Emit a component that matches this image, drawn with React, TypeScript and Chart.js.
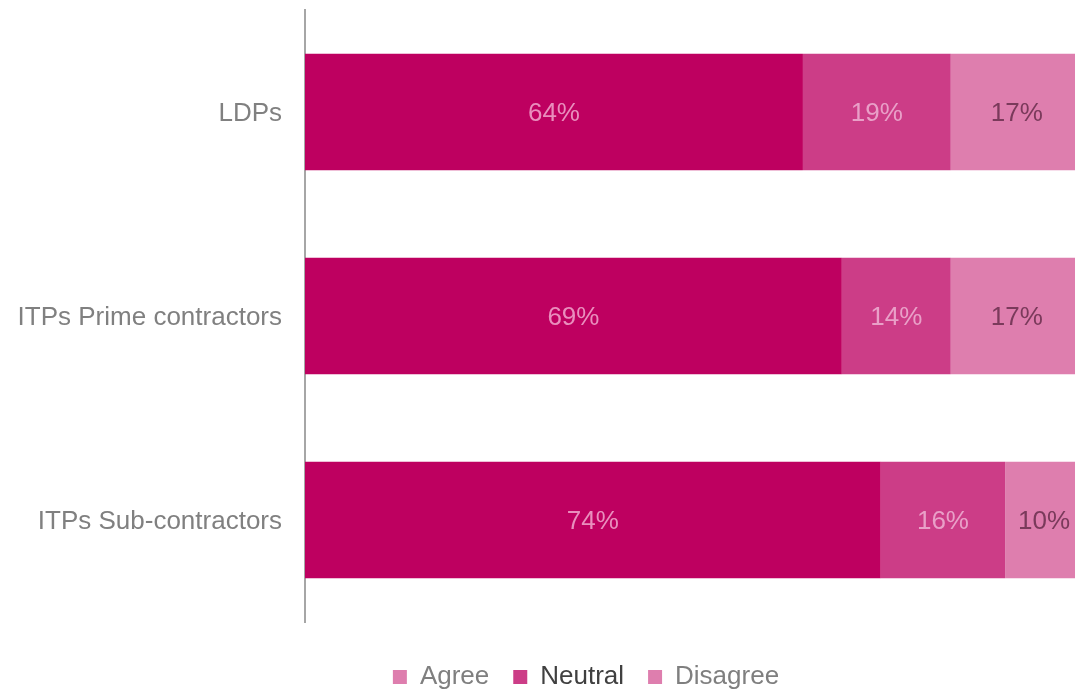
import React, { useEffect, useRef } from "react";
import { Chart, registerables } from "chart.js";

Chart.register(...registerables);

const categories = ["LDPs", "ITPs Prime contractors", "ITPs Sub-contractors"];
const seriesNames = ["Agree", "Neutral", "Disagree"];
const agreeValues = [64, 69, 74];
const neutralValues = [19, 14, 16];
const disagreeValues = [17, 17, 10];
const barColors = ["#BE0060", "#CC3D87", "#DE7EAE"];
const labelColors = ["#E98EBD", "#E9A0C8", "#7A3A5B"];
const legendBoxColors = ["#DE7EAE", "#CC3D87", "#DE7EAE"];
const legendTextColors = ["#7F7F7F", "#404040", "#7F7F7F"];

const FONT = '"Liberation Sans", Arial, sans-serif';

const dataLabelPlugin = {
  id: "dataLabels",
  afterDatasetsDraw(chart: any) {
    const ctx = chart.ctx;
    ctx.save();
    ctx.font = `26px ${FONT}`;
    ctx.textAlign = "center";
    ctx.textBaseline = "middle";
    chart.data.datasets.forEach((ds: any, i: number) => {
      const meta = chart.getDatasetMeta(i);
      meta.data.forEach((el: any, j: number) => {
        const v = ds.data[j];
        const cx = (el.x + el.base) / 2;
        ctx.fillStyle = labelColors[i];
        ctx.fillText(`${v}%`, cx, el.y + 2);
      });
    });
    ctx.restore();
  },
};

export default function App() {
  const ref = useRef<HTMLCanvasElement>(null);
  useEffect(() => {
    if (!ref.current) return;
    const values = [agreeValues, neutralValues, disagreeValues];
    const chart = new Chart(ref.current, {
      type: "bar",
      data: {
        labels: categories,
        datasets: seriesNames.map((name, i) => ({
          label: name,
          data: values[i],
          backgroundColor: barColors[i],
          borderWidth: 0,
          categoryPercentage: 1,
          barPercentage: 0.57,
        })),
      },
      options: {
        indexAxis: "y",
        responsive: false,
        animation: false,
        layout: { padding: { top: 10, right: 89, left: 89, bottom: 0 } },
        scales: {
          x: {
            stacked: true,
            min: 0,
            max: 100,
            display: false,
          },
          y: {
            stacked: true,
            grid: { display: false, drawTicks: false },
            border: { display: true, color: "#A6A6A6", width: 2 },
            ticks: {
              color: "#808080",
              font: { size: 26, family: FONT },
              padding: 23,
              labelOffset: 2,
            },
            afterFit: (s: any) => {
              s.width = 216;
              s.paddingTop = 0;
              s.paddingBottom = 0;
              s._computeLabelArea = () => undefined;
            },
          },
        },
        plugins: {
          tooltip: { enabled: false },
          legend: {
            position: "bottom",
            title: {
              display: true,
              text: " ",
              font: { size: 10 },
              padding: { top: 0, bottom: 6 },
            },
            labels: {
              boxWidth: 14,
              boxHeight: 14,
              padding: 24,
              font: { size: 26, family: FONT },
              generateLabels: () =>
                seriesNames.map((name, i) => ({
                  text: name,
                  fillStyle: legendBoxColors[i],
                  strokeStyle: legendBoxColors[i],
                  lineWidth: 0,
                  fontColor: legendTextColors[i],
                  hidden: false,
                  datasetIndex: i,
                })),
            },
          },
        },
      },
      plugins: [dataLabelPlugin],
    } as any);
    return () => chart.destroy();
  }, []);

  return (
    <div
      style={{
        position: "fixed",
        left: 0,
        top: 0,
        width: 1075,
        height: 690,
        overflow: "hidden",
        background: "#fff",
      }}
    >
      <canvas ref={ref} width={1172} height={700} style={{ display: "block" }} />
    </div>
  );
}
